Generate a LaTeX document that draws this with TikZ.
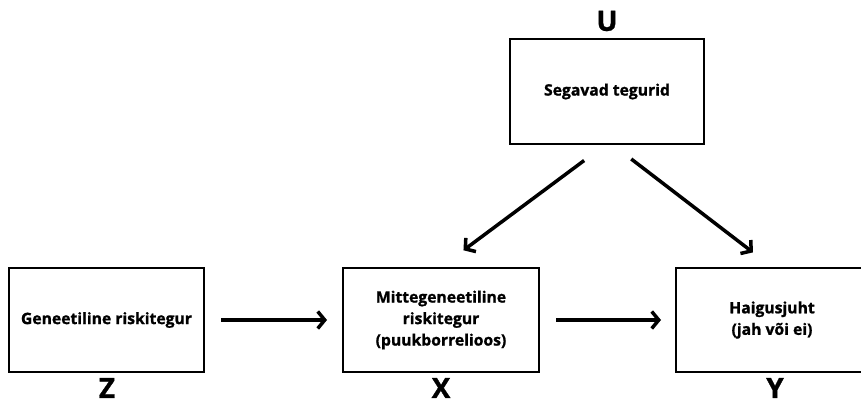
\documentclass[tikz,border=0pt]{standalone}
\usepackage{fontspec}
\setmainfont{Open Sans}[BoldFeatures={FakeBold=1.2}]
\usetikzlibrary{arrows.meta}
\begin{document}
\begin{tikzpicture}[x=1pt,y=-1pt,
  box/.style={draw=black,line width=2pt,rectangle,align=center,inner sep=0pt,
    font=\bfseries\fontsize{15.7}{21.5}\selectfont},
  letter/.style={font=\bfseries\fontsize{28}{32}\selectfont,inner sep=0pt},
  conn/.style={line width=3.5pt,-{Straight Barb[length=7pt,width=17pt,line width=3.5pt]}}]
\useasboundingbox (0,0) rectangle (861,403);
\node[box,minimum width=194pt,minimum height=105pt] (U) at (607,91.5) {Segavad tegurid};
\node[box,minimum width=195pt,minimum height=104pt] (Z) at (106.5,320) {Geneetiline riskitegur};
\node[box,minimum width=196pt,minimum height=104pt] (X) at (441,320) {Mittegeneetiline\\riskitegur\\(puukborrelioos)};
\node[box,minimum width=192pt,minimum height=104pt] (Y) at (772,320) {Haigusjuht\\(jah või ei)};
\node[letter] (Ul) at (607,21) {U};
\node[letter] (Zl) at (107,388) {Z};
\node[letter] (Xl) at (441,388) {X};
\node[letter] (Yl) at (775,388) {Y};
\draw[conn,shorten <=16pt,shorten >=15pt] (Z.east) -- (X.west);
\draw[conn,shorten <=16pt,shorten >=14pt] (X.east) -- (Y.west);
\draw[conn,shorten <=26pt,shorten >=28pt] ([xshift=-2pt]U.south) -- (X.north);
\draw[conn,shorten <=23pt,shorten >=24pt] ([xshift=6pt]U.south) -- (Y.north);
\end{tikzpicture}
\end{document}
